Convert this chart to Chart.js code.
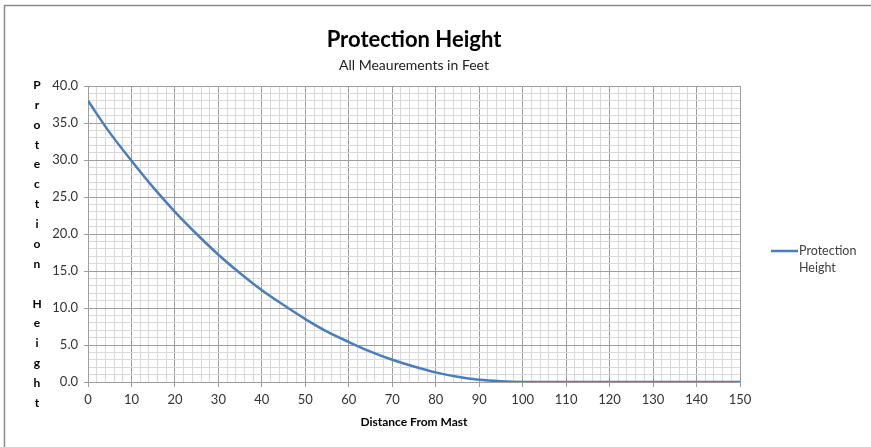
<!DOCTYPE html>
<html>
<head>
<meta charset="utf-8">
<script src="https://cdn.jsdelivr.net/npm/chart.js@4"></script>
<style>
html,body{margin:0;padding:0;background:#fff;}
#wrap{position:relative;width:871px;height:447px;}
</style>
</head>
<body>
<div id="wrap"><canvas id="c"></canvas></div>
<script>
const distances = [0,5,10,15,20,25,30,35,40,45,50,55,60,65,70,75,80,85,90,95,100,105,110,115,120,125,130,135,140,145,150];
const heights   = [38.0,33.7,29.9,26.3,23.0,20.0,17.2,14.7,12.4,10.4,8.5,6.8,5.4,4.1,3.0,2.1,1.3,0.7,0.3,0.1,0,0,0,0,0,0,0,0,0,0,0];
const seriesName = 'Protection Height';
const legendLines = ['Protection','Height'];
const chartTitle = 'Protection Height';
const chartSubtitle = 'All Meaurements in Feet';
const xTitle = 'Distance From Mast';
const yTitle = 'Protection Height';

const FONT = 'Lato, "Open Sans", sans-serif';
const MAJOR = '#9e9e9e';
const MINOR = '#d9d9d9';
const BLUE = '#4a7ebb';

const decorPlugin = {
  id: 'decor',
  afterDraw(chart) {
    const ctx = chart.ctx;
    const a = chart.chartArea;
    ctx.save();
    ctx.strokeStyle = '#8c8c8c';
    ctx.lineWidth = 1.5;
    ctx.beginPath();
    ctx.moveTo(4.5, 447);
    ctx.lineTo(4.5, 5.5);
    ctx.lineTo(871, 5.5);
    ctx.stroke();
    const cx = (a.left + a.right) / 2;
    ctx.fillStyle = '#000';
    ctx.textAlign = 'center';
    ctx.textBaseline = 'middle';
    ctx.font = 'bold 22px ' + FONT;
    ctx.fillText(chartTitle, cx, 40);
    ctx.font = '14px ' + FONT;
    ctx.fillStyle = '#222';
    ctx.fillText(chartSubtitle, cx, 65);
    ctx.font = 'bold 12px ' + FONT;
    ctx.fillStyle = '#000';
    const letters = yTitle.split('');
    const step = (403 - 85) / (letters.length - 1);
    letters.forEach((ch, i) => {
      if (ch !== ' ') ctx.fillText(ch, 37, 85 + i * step);
    });
    const ly = 251;
    ctx.strokeStyle = BLUE;
    ctx.lineWidth = 2.5;
    ctx.beginPath();
    ctx.moveTo(771, ly);
    ctx.lineTo(798, ly);
    ctx.stroke();
    ctx.textAlign = 'left';
    ctx.font = '12.5px ' + FONT;
    ctx.fillStyle = '#404040';
    ctx.fillText(legendLines[0], 799, ly);
    ctx.fillText(legendLines[1], 799, ly + 17);
    ctx.restore();
  }
};

new Chart(document.getElementById('c'), {
  type: 'line',
  data: {
    datasets: [{
      label: seriesName,
      data: distances.map((d, i) => ({x: d, y: heights[i]})),
      borderColor: BLUE,
      borderWidth: 2.5,
      pointRadius: 0,
      tension: 0.3,
      fill: false
    }]
  },
  options: {
    responsive: true,
    maintainAspectRatio: false,
    animation: false,
    devicePixelRatio: 1,
    layout: { padding: { left: 48, right: 131, top: 86, bottom: 0 } },
    plugins: {
      legend: { display: false },
      title: { display: false },
      tooltip: { enabled: false }
    },
    scales: {
      x: {
        type: 'linear',
        min: 0, max: 150,
        afterFit(s) { s.height = 65; },
        border: { color: MAJOR, width: 1 },
        grid: {
          color: c => (c.tick && c.tick.value % 10 === 0) ? MAJOR : MINOR,
          tickColor: c => (c.tick && c.tick.value % 10 === 0) ? MAJOR : 'rgba(0,0,0,0)',
          tickLength: 5,
          lineWidth: 1
        },
        ticks: {
          stepSize: 2,
          autoSkip: false,
          maxRotation: 0,
          padding: 5,
          color: '#333',
          font: { family: FONT, size: 13 },
          callback: v => (v % 10 === 0) ? String(v) : ''
        },
        title: {
          display: true,
          text: xTitle,
          color: '#000',
          font: { family: FONT, size: 12, weight: 'bold' },
          padding: { top: 2, bottom: 18 }
        }
      },
      y: {
        type: 'linear',
        min: 0, max: 40,
        afterFit(s) { s.width = 40; },
        border: { color: MAJOR, width: 1 },
        grid: {
          color: c => (c.tick && c.tick.value % 5 === 0) ? MAJOR : MINOR,
          tickColor: c => (c.tick && c.tick.value % 5 === 0) ? MAJOR : 'rgba(0,0,0,0)',
          tickLength: 4,
          lineWidth: 1
        },
        ticks: {
          stepSize: 1,
          autoSkip: false,
          padding: 6,
          color: '#333',
          font: { family: FONT, size: 13 },
          callback: v => (v % 5 === 0) ? v.toFixed(1) : ''
        }
      }
    }
  },
  plugins: [decorPlugin]
});
</script>
</body>
</html>
